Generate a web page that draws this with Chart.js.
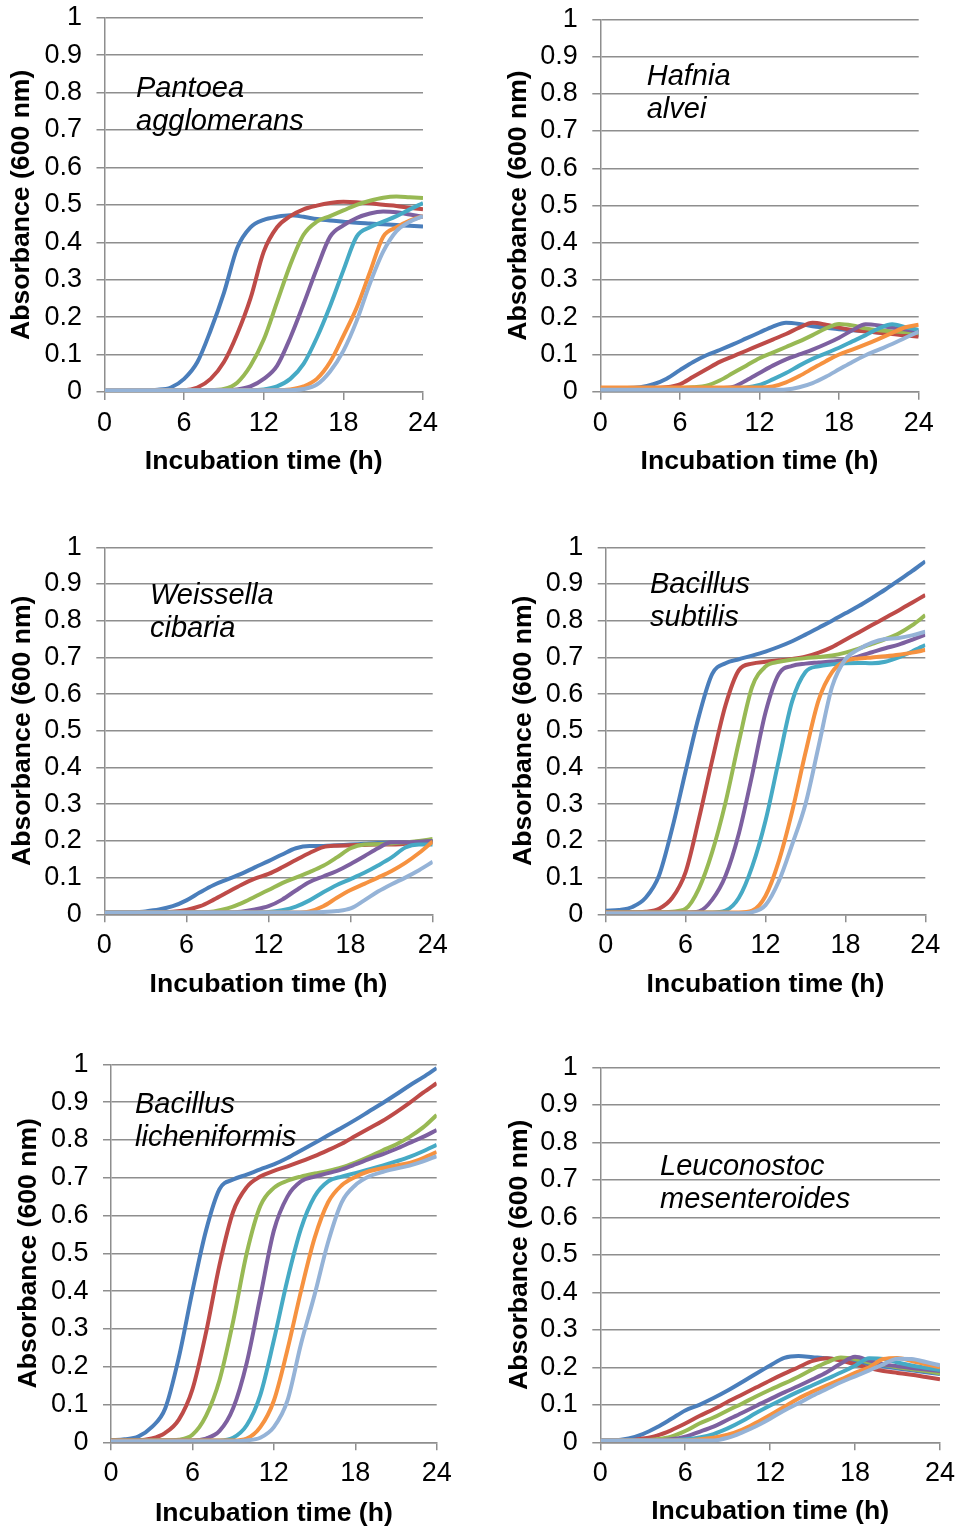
<!DOCTYPE html>
<html>
<head>
<meta charset="utf-8">
<script src="https://cdn.jsdelivr.net/npm/chart.js@4.4.1/dist/chart.umd.min.js"></script>
<style>
  html, body { margin: 0; padding: 0; background: #fff; overflow: hidden; }
  #fig { position: relative; width: 955px; height: 1528px; background: #fff; }
  #fig canvas { position: absolute; }
</style>
</head>
<body>
<div id="fig"></div>
<script>
// ---- data -------------------------------------------------------------
const hours = [0,1,2,3,4,5,6,7,8,9,10,11,12,13,14,15,16,17,18,19,20,21,22,23,24];
const xTickLabels = ['0', '6', '12', '18', '24'];
const yTickLabels = ['0','0.1','0.2','0.3','0.4','0.5','0.6','0.7','0.8','0.9','1'];
const xAxisTitle = 'Incubation time (h)';
const yAxisTitle = 'Absorbance (600 nm)';
const seriesColors = ['#4A7EBB', '#BE4B48', '#98B954', '#7D60A0', '#46AAC5', '#F69240', '#95B3D7'];
const speciesNames = [
  ['Pantoea', 'agglomerans'],
  ['Hafnia', 'alvei'],
  ['Weissella', 'cibaria'],
  ['Bacillus', 'subtilis'],
  ['Bacillus', 'licheniformis'],
  ['Leuconostoc', 'mesenteroides']
];

// absorbance at each hour, seven curves per organism
const pantoea = [
  [0.005,0.005,0.005,0.005,0.006,0.012,0.035,0.08,0.165,0.265,0.385,0.44,0.46,0.468,0.472,0.468,0.462,0.458,0.455,0.452,0.45,0.448,0.446,0.444,0.442],
  [0.005,0.005,0.005,0.005,0.005,0.005,0.005,0.012,0.035,0.08,0.155,0.25,0.375,0.44,0.47,0.488,0.498,0.505,0.508,0.507,0.504,0.5,0.497,0.492,0.488],
  [0.005,0.005,0.005,0.005,0.005,0.005,0.005,0.005,0.005,0.008,0.025,0.07,0.14,0.24,0.34,0.42,0.455,0.47,0.485,0.5,0.511,0.519,0.522,0.52,0.518],
  [0.005,0.005,0.005,0.005,0.005,0.005,0.005,0.005,0.005,0.005,0.007,0.015,0.035,0.07,0.145,0.235,0.33,0.415,0.445,0.465,0.477,0.482,0.48,0.474,0.468],
  [0.005,0.005,0.005,0.005,0.005,0.005,0.005,0.005,0.005,0.005,0.005,0.005,0.007,0.015,0.035,0.075,0.145,0.23,0.325,0.415,0.44,0.455,0.47,0.488,0.505],
  [0.005,0.005,0.005,0.005,0.005,0.005,0.005,0.005,0.005,0.005,0.005,0.005,0.005,0.005,0.007,0.015,0.035,0.08,0.15,0.225,0.32,0.415,0.44,0.458,0.47],
  [0.005,0.005,0.005,0.005,0.005,0.005,0.005,0.005,0.005,0.005,0.005,0.005,0.005,0.005,0.005,0.008,0.02,0.055,0.11,0.19,0.29,0.375,0.43,0.455,0.47]
];
const hafnia = [
  [0.01,0.01,0.01,0.012,0.02,0.035,0.058,0.08,0.098,0.112,0.127,0.143,0.159,0.175,0.185,0.182,0.176,0.172,0.168,0.165,0.162,0.159,0.156,0.154,0.152],
  [0.01,0.01,0.01,0.01,0.01,0.012,0.02,0.04,0.06,0.08,0.095,0.11,0.125,0.14,0.155,0.172,0.185,0.18,0.172,0.166,0.162,0.158,0.155,0.151,0.148],
  [0.01,0.01,0.01,0.01,0.01,0.01,0.01,0.012,0.016,0.03,0.05,0.07,0.09,0.105,0.12,0.135,0.152,0.17,0.182,0.178,0.17,0.165,0.162,0.16,0.157],
  [0.01,0.01,0.01,0.01,0.01,0.01,0.01,0.01,0.01,0.01,0.013,0.03,0.05,0.07,0.087,0.1,0.113,0.128,0.145,0.165,0.181,0.178,0.172,0.167,0.162],
  [0.01,0.01,0.01,0.01,0.01,0.01,0.01,0.01,0.01,0.01,0.01,0.011,0.018,0.033,0.05,0.07,0.088,0.103,0.118,0.135,0.152,0.17,0.181,0.173,0.166],
  [0.011,0.011,0.011,0.011,0.011,0.011,0.011,0.011,0.011,0.011,0.011,0.011,0.011,0.014,0.025,0.042,0.062,0.082,0.1,0.113,0.127,0.142,0.158,0.173,0.18],
  [0.005,0.005,0.005,0.005,0.005,0.005,0.005,0.005,0.005,0.005,0.005,0.005,0.005,0.005,0.006,0.012,0.023,0.04,0.06,0.08,0.098,0.113,0.128,0.145,0.161]
];
const weissella = [
  [0.005,0.005,0.005,0.008,0.013,0.022,0.038,0.06,0.08,0.095,0.11,0.128,0.145,0.163,0.18,0.186,0.186,0.188,0.19,0.192,0.194,0.195,0.196,0.198,0.2],
  [0.005,0.005,0.005,0.005,0.005,0.007,0.012,0.022,0.04,0.06,0.08,0.097,0.11,0.128,0.148,0.167,0.183,0.187,0.188,0.189,0.19,0.19,0.192,0.194,0.196],
  [0.005,0.005,0.005,0.005,0.005,0.005,0.005,0.005,0.008,0.016,0.03,0.048,0.066,0.085,0.1,0.115,0.132,0.155,0.18,0.19,0.191,0.193,0.196,0.2,0.205],
  [0.005,0.005,0.005,0.005,0.005,0.005,0.005,0.005,0.005,0.005,0.007,0.013,0.022,0.04,0.065,0.088,0.103,0.118,0.137,0.158,0.18,0.196,0.196,0.198,0.2],
  [0.005,0.005,0.005,0.005,0.005,0.005,0.005,0.005,0.005,0.005,0.005,0.005,0.006,0.011,0.021,0.038,0.06,0.08,0.096,0.113,0.133,0.155,0.182,0.19,0.19],
  [0.005,0.005,0.005,0.005,0.005,0.005,0.005,0.005,0.005,0.005,0.005,0.005,0.005,0.005,0.005,0.008,0.022,0.045,0.066,0.083,0.1,0.118,0.14,0.167,0.198],
  [0.005,0.005,0.005,0.005,0.005,0.005,0.005,0.005,0.005,0.005,0.005,0.005,0.005,0.005,0.005,0.005,0.006,0.009,0.016,0.038,0.062,0.082,0.1,0.12,0.143]
];
const subtilis = [
  [0.01,0.012,0.02,0.045,0.105,0.235,0.39,0.54,0.655,0.684,0.695,0.705,0.716,0.729,0.744,0.762,0.781,0.8,0.82,0.84,0.862,0.885,0.91,0.935,0.962],
  [0.005,0.005,0.005,0.007,0.015,0.045,0.115,0.26,0.42,0.57,0.665,0.683,0.688,0.692,0.696,0.702,0.713,0.728,0.748,0.768,0.788,0.808,0.828,0.849,0.87],
  [0.005,0.005,0.005,0.005,0.005,0.007,0.015,0.07,0.17,0.305,0.47,0.62,0.675,0.688,0.694,0.698,0.701,0.705,0.713,0.724,0.737,0.75,0.765,0.787,0.815],
  [0.005,0.005,0.005,0.005,0.005,0.005,0.005,0.008,0.04,0.105,0.22,0.38,0.55,0.655,0.677,0.683,0.686,0.689,0.693,0.703,0.714,0.725,0.735,0.748,0.762],
  [0.005,0.005,0.005,0.005,0.005,0.005,0.005,0.005,0.005,0.01,0.045,0.13,0.255,0.42,0.58,0.66,0.676,0.681,0.684,0.685,0.684,0.688,0.7,0.716,0.734],
  [0.005,0.005,0.005,0.005,0.005,0.005,0.005,0.005,0.005,0.005,0.005,0.01,0.05,0.145,0.28,0.44,0.585,0.66,0.69,0.697,0.7,0.703,0.707,0.713,0.72],
  [0.003,0.003,0.003,0.003,0.003,0.003,0.003,0.003,0.003,0.003,0.003,0.006,0.025,0.09,0.19,0.3,0.46,0.62,0.695,0.722,0.74,0.75,0.753,0.76,0.77]
];
const licheniformis = [
  [0.005,0.008,0.015,0.04,0.09,0.225,0.4,0.56,0.67,0.695,0.708,0.722,0.735,0.752,0.772,0.792,0.812,0.832,0.853,0.875,0.897,0.92,0.944,0.966,0.99],
  [0.005,0.005,0.005,0.01,0.025,0.06,0.14,0.29,0.47,0.61,0.675,0.703,0.718,0.73,0.743,0.757,0.773,0.79,0.81,0.83,0.85,0.873,0.898,0.925,0.95],
  [0.005,0.005,0.005,0.005,0.005,0.007,0.02,0.07,0.165,0.32,0.5,0.625,0.673,0.692,0.703,0.711,0.718,0.727,0.74,0.755,0.772,0.788,0.808,0.833,0.866],
  [0.005,0.005,0.005,0.005,0.005,0.005,0.005,0.01,0.03,0.09,0.21,0.385,0.56,0.65,0.69,0.703,0.712,0.722,0.735,0.749,0.762,0.776,0.792,0.808,0.826],
  [0.005,0.005,0.005,0.005,0.005,0.005,0.005,0.005,0.005,0.012,0.045,0.125,0.27,0.43,0.565,0.65,0.69,0.703,0.712,0.722,0.732,0.743,0.755,0.77,0.787],
  [0.005,0.005,0.005,0.005,0.005,0.005,0.005,0.005,0.005,0.005,0.01,0.04,0.11,0.245,0.4,0.54,0.635,0.68,0.702,0.717,0.725,0.732,0.739,0.752,0.768],
  [0.003,0.003,0.003,0.003,0.003,0.003,0.003,0.003,0.003,0.003,0.005,0.012,0.04,0.11,0.26,0.39,0.53,0.635,0.68,0.703,0.715,0.724,0.732,0.743,0.757]
];
const leuconostoc = [
  [0.005,0.005,0.01,0.022,0.04,0.062,0.085,0.1,0.118,0.138,0.16,0.183,0.205,0.225,0.23,0.227,0.224,0.22,0.215,0.208,0.202,0.197,0.192,0.187,0.182],
  [0.005,0.005,0.005,0.01,0.018,0.032,0.05,0.07,0.088,0.108,0.127,0.146,0.165,0.183,0.2,0.217,0.224,0.218,0.208,0.198,0.19,0.185,0.18,0.174,0.168],
  [0.005,0.005,0.005,0.005,0.008,0.015,0.03,0.05,0.066,0.085,0.103,0.122,0.14,0.157,0.175,0.195,0.213,0.226,0.222,0.213,0.207,0.2,0.195,0.19,0.184],
  [0.005,0.005,0.005,0.005,0.005,0.008,0.015,0.028,0.042,0.06,0.078,0.097,0.115,0.133,0.15,0.168,0.187,0.21,0.228,0.218,0.208,0.203,0.198,0.194,0.19],
  [0.005,0.005,0.005,0.005,0.005,0.005,0.008,0.013,0.022,0.037,0.056,0.078,0.098,0.117,0.135,0.152,0.169,0.186,0.204,0.224,0.222,0.213,0.205,0.199,0.193],
  [0.005,0.005,0.005,0.005,0.005,0.005,0.005,0.008,0.012,0.02,0.033,0.052,0.073,0.095,0.117,0.135,0.152,0.168,0.185,0.2,0.222,0.225,0.217,0.208,0.2],
  [0.005,0.005,0.005,0.005,0.005,0.005,0.005,0.005,0.005,0.012,0.026,0.043,0.063,0.085,0.104,0.124,0.142,0.16,0.176,0.192,0.208,0.223,0.222,0.214,0.205]
];
const panelSeries = [pantoea, hafnia, weissella, subtilis, licheniformis, leuconostoc];

// ---- layout (page pixels) ---------------------------------------------
// plot: [left, top, right, bottom] of each plotting area
const panelLayout = [
  { plot: [104.5, 17.7, 423.0, 392.0],   colLeft: 0,   yTitleX: 22.0,  xTitleY: 461.7,  label: [136, 96.7] },
  { plot: [600.3, 19.3, 918.7, 391.7],   colLeft: 478, yTitleX: 519.0, xTitleY: 461.7,  label: [646.7, 85.0] },
  { plot: [104.3, 547.3, 432.7, 914.3],  colLeft: 0,   yTitleX: 22.5,  xTitleY: 985.0,  label: [150, 604.0] },
  { plot: [605.7, 547.3, 925.3, 914.3],  colLeft: 478, yTitleX: 524.0, xTitleY: 985.0,  label: [650, 592.7] },
  { plot: [111.0, 1064.3, 436.7, 1442.3], colLeft: 0,  yTitleX: 29.0,  xTitleY: 1513.3, label: [135, 1113.3] },
  { plot: [600.3, 1067.3, 940.0, 1442.3], colLeft: 478, yTitleX: 519.5, xTitleY: 1511.7, label: [660, 1175.0] }
];

const FONT = "'Liberation Sans', Arial, Helvetica, sans-serif";
const TICK_SIZE = 27;
const TITLE_SIZE = 26.6;
const LABEL_SIZE = 29;
const LABEL_LINE_GAP = 33;
const GRID_COLOR = '#8e8e8e';
const GRID_WIDTH = 1.5;
const TICK_LEN = 8;
const LINE_WIDTH = 4;

const fig = document.getElementById('fig');

panelLayout.forEach((lay, k) => {
  const [pl, pt, pr, pb] = lay.plot;
  const left = lay.colLeft;
  const top = Math.floor(pt - 24);
  const padTop = pt - top;
  const yAxisWidth = pl - left;
  const half = TITLE_SIZE * 1.2 / 2;
  const tickHalf = TICK_SIZE * 1.2 / 2;
  const xAxisHeight = lay.xTitleY - pb + half + 4;
  const width = Math.ceil(pr + 16 - left);
  const height = Math.ceil(padTop + (pb - pt) + xAxisHeight);
  const padRight = width - (pr - left);
  const padBottom = height - (padTop + (pb - pt) + xAxisHeight);

  const canvas = document.createElement('canvas');
  canvas.width = width;
  canvas.height = height;
  canvas.style.left = left + 'px';
  canvas.style.top = top + 'px';
  canvas.style.width = width + 'px';
  canvas.style.height = height + 'px';
  fig.appendChild(canvas);

  const series = panelSeries[k];
  const datasets = series.map((vals, i) => ({
    data: hours.map((h, j) => ({ x: h, y: vals[j] })),
    borderColor: seriesColors[i],
    borderWidth: LINE_WIDTH,
    pointRadius: 0,
    fill: false,
    cubicInterpolationMode: 'monotone',
    order: series.length - i
  }));

  const names = speciesNames[k];
  const speciesLabel = {
    id: 'speciesLabel',
    afterDraw(chart) {
      const ctx = chart.ctx;
      ctx.save();
      ctx.font = 'italic ' + LABEL_SIZE + 'px ' + FONT;
      ctx.fillStyle = '#000';
      ctx.textBaseline = 'alphabetic';
      ctx.textAlign = 'left';
      names.forEach((line, n) => {
        ctx.fillText(line, lay.label[0] - left, lay.label[1] - top + n * LABEL_LINE_GAP);
      });
      ctx.restore();
    }
  };

  new Chart(canvas, {
    type: 'line',
    data: { datasets },
    plugins: [speciesLabel],
    options: {
      responsive: false,
      animation: false,
      devicePixelRatio: 1,
      layout: { padding: { left: 0, top: padTop, right: padRight, bottom: padBottom } },
      plugins: { legend: { display: false }, tooltip: { enabled: false } },
      scales: {
        x: {
          type: 'linear',
          min: 0, max: 24,
          afterFit: (s) => { s.height = xAxisHeight; s.paddingLeft = 0; s.paddingRight = 0; },
          ticks: {
            stepSize: 6,
            padding: 31.5 - TICK_LEN - tickHalf,
            color: '#000',
            maxRotation: 0,
            font: { family: FONT, size: TICK_SIZE },
            callback: (v) => xTickLabels[Math.round(v / 6)]
          },
          grid: { drawOnChartArea: false, drawTicks: true, tickLength: TICK_LEN, color: GRID_COLOR, lineWidth: GRID_WIDTH },
          border: { display: true, color: GRID_COLOR, width: GRID_WIDTH },
          title: {
            display: true, text: xAxisTitle, color: '#000',
            font: { family: FONT, size: TITLE_SIZE, weight: 'bold' },
            padding: { top: 0, bottom: 4 }
          }
        },
        y: {
          type: 'linear',
          min: 0, max: 1,
          afterFit: (s) => { s.width = yAxisWidth; s.paddingTop = 0; s.paddingBottom = 0; },
          ticks: {
            stepSize: 0.1,
            padding: 14.5,
            color: '#000',
            font: { family: FONT, size: TICK_SIZE },
            callback: (v) => yTickLabels[Math.round(v * 10)]
          },
          grid: { drawOnChartArea: true, drawTicks: true, tickLength: TICK_LEN, color: GRID_COLOR, lineWidth: GRID_WIDTH },
          border: { display: true, color: GRID_COLOR, width: GRID_WIDTH },
          title: {
            display: true, text: yAxisTitle, color: '#000',
            font: { family: FONT, size: TITLE_SIZE, weight: 'bold' },
            padding: { top: lay.yTitleX - left - half, bottom: 0 }
          }
        }
      }
    }
  });
});
</script>
</body>
</html>
